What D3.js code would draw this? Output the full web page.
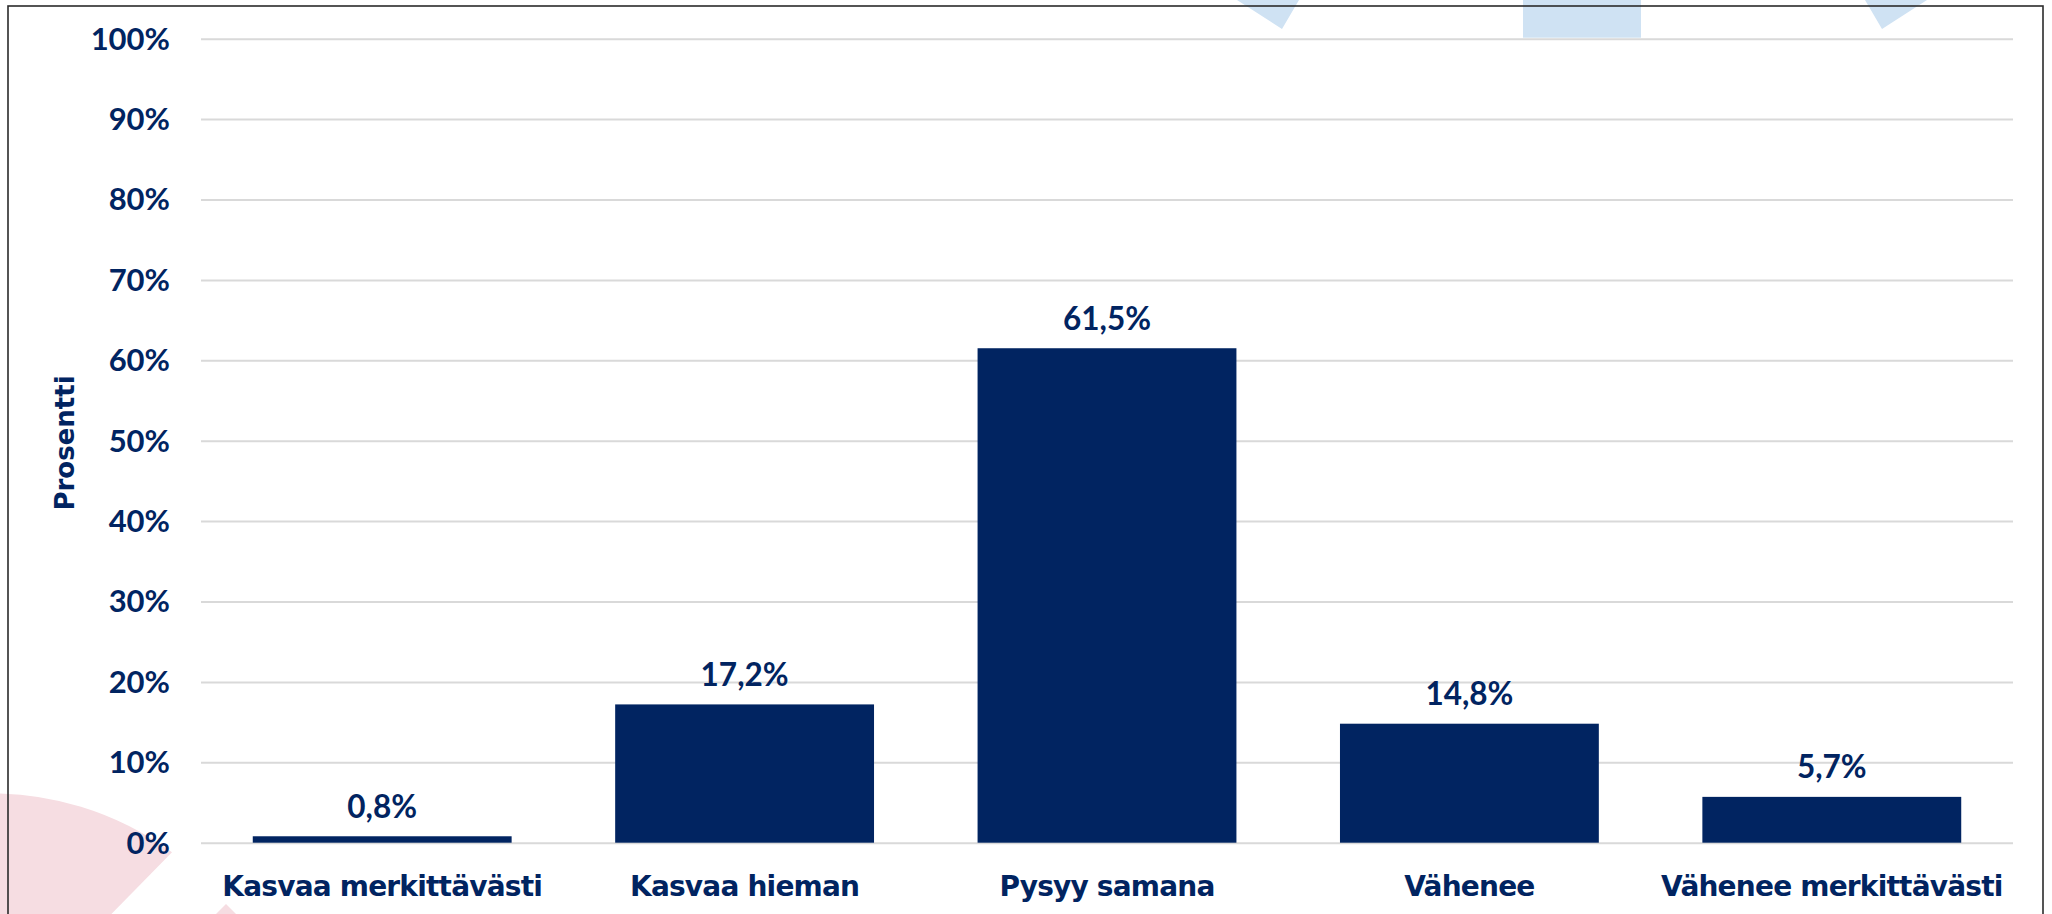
<!DOCTYPE html>
<html>
<head>
<meta charset="utf-8">
<script src="https://cdn.jsdelivr.net/npm/d3@7/dist/d3.min.js"></script>
<style>
  html, body { margin: 0; padding: 0; background: #ffffff; overflow: hidden; }
  svg { display: block; }
</style>
</head>
<body>
<svg id="chart" width="2052" height="914"></svg>
<script>
// ---- data ----
const categories = ["Kasvaa merkittävästi", "Kasvaa hieman", "Pysyy samana", "Vähenee", "Vähenee merkittävästi"];
const values = [0.8, 17.2, 61.5, 14.8, 5.7];
const tickValues = [0, 10, 20, 30, 40, 50, 60, 70, 80, 90, 100];
const yTitle = "Prosentti";

// ---- styles ----
const NAVY = "#012461";
const GRID = "#d9d9d9";
const WORD_FONT = "'Century Gothic', 'DejaVu Sans', sans-serif";
const NUM_FONT = "'Century Gothic', Lato, 'DejaVu Sans', sans-serif";

const locale = d3.formatLocale({ decimal: ",", thousands: " ", grouping: [3], currency: ["", " €"] });
const fmtVal = v => locale.format(".1f")(v) + "%";
const fmtTick = v => locale.format("d")(v) + "%";

const svg = d3.select("#chart");

const plot = { left: 201, right: 2013, top: 38.7, bottom: 842.7 };

const x = d3.scaleBand()
  .domain(categories)
  .range([plot.left, plot.right])
  .paddingInner(0.4 / 1.4)
  .paddingOuter(0.2 / 1.4);

const y = d3.scaleLinear()
  .domain([0, 100])
  .range([plot.bottom, plot.top]);

// ---- background decorations (behind the chart) ----
const deco = svg.append("g");
const BLUE = "#cfe2f3";
const PINK = "#f6dde2";
deco.append("rect").attr("x", 1523).attr("y", -10).attr("width", 118).attr("height", 80).attr("fill", BLUE);
deco.append("path").attr("d", "M1230,-5 L1302,-5 L1299,0 L1282,29 L1237,0 Z").attr("fill", BLUE);
deco.append("path").attr("d", "M1862,-5 L1934,-5 L1927,0 L1882,29 L1865,0 Z").attr("fill", BLUE);
deco.append("path")
  .attr("d", "M-20,793.5 A305,305 0 0 1 172,852.3 L80,946 L-20,946 Z")
  .attr("fill", PINK);
deco.append("path").attr("d", "M226,904 L210,920 L242,920 Z").attr("fill", PINK);

// ---- plot area (opaque white) ----
svg.append("rect")
  .attr("x", plot.left).attr("y", plot.top - 1)
  .attr("width", plot.right - plot.left).attr("height", plot.bottom - plot.top + 1)
  .attr("fill", "#ffffff");

// ---- gridlines via axis ----
const yAxis = d3.axisLeft(y)
  .tickValues(tickValues)
  .tickSize(-(plot.right - plot.left))
  .tickFormat("");
const gAxis = svg.append("g")
  .attr("transform", `translate(${plot.left},0)`)
  .call(yAxis);
gAxis.select(".domain").remove();
gAxis.selectAll(".tick line").attr("stroke", GRID).attr("stroke-width", 2);

// ---- tick labels ----
svg.append("g").selectAll("text")
  .data(tickValues)
  .join("text")
  .attr("x", 170)
  .attr("y", d => y(d) + 10.8)
  .attr("text-anchor", "end")
  .attr("font-family", NUM_FONT)
  .attr("font-weight", "bold")
  .attr("font-size", 31)
  .attr("fill", NAVY)
  .text(d => fmtTick(d));

// ---- bars ----
svg.append("g").selectAll("rect")
  .data(values)
  .join("rect")
  .attr("x", (d, i) => x(categories[i]))
  .attr("y", d => y(d))
  .attr("width", x.bandwidth())
  .attr("height", d => y(0) - y(d))
  .attr("fill", NAVY);

// ---- value labels ----
svg.append("g").selectAll("text")
  .data(values)
  .join("text")
  .attr("x", (d, i) => x(categories[i]) + x.bandwidth() / 2)
  .attr("y", d => y(d) - 18.5)
  .attr("text-anchor", "middle")
  .attr("font-family", NUM_FONT)
  .attr("font-weight", "bold")
  .attr("font-size", 31.5)
  .attr("fill", NAVY)
  .text(d => fmtVal(d));

// ---- category labels ----
svg.append("g").selectAll("text")
  .data(categories)
  .join("text")
  .attr("x", d => x(d) + x.bandwidth() / 2)
  .attr("y", 896)
  .attr("text-anchor", "middle")
  .attr("font-family", WORD_FONT)
  .attr("font-weight", "bold")
  .attr("font-size", 28)
  .attr("letter-spacing", -0.8)
  .attr("fill", NAVY)
  .text(d => d);

// ---- y axis title ----
svg.append("text")
  .attr("transform", "translate(74,443) rotate(-90)")
  .attr("text-anchor", "middle")
  .attr("font-family", WORD_FONT)
  .attr("font-weight", "bold")
  .attr("font-size", 26)
  .attr("fill", NAVY)
  .text(yTitle);

// ---- chart border ----
svg.append("rect")
  .attr("x", 8).attr("y", 6)
  .attr("width", 2035).attr("height", 1000)
  .attr("fill", "none")
  .attr("stroke", "#2b2b2b")
  .attr("stroke-width", 1.6);
</script>
</body>
</html>
